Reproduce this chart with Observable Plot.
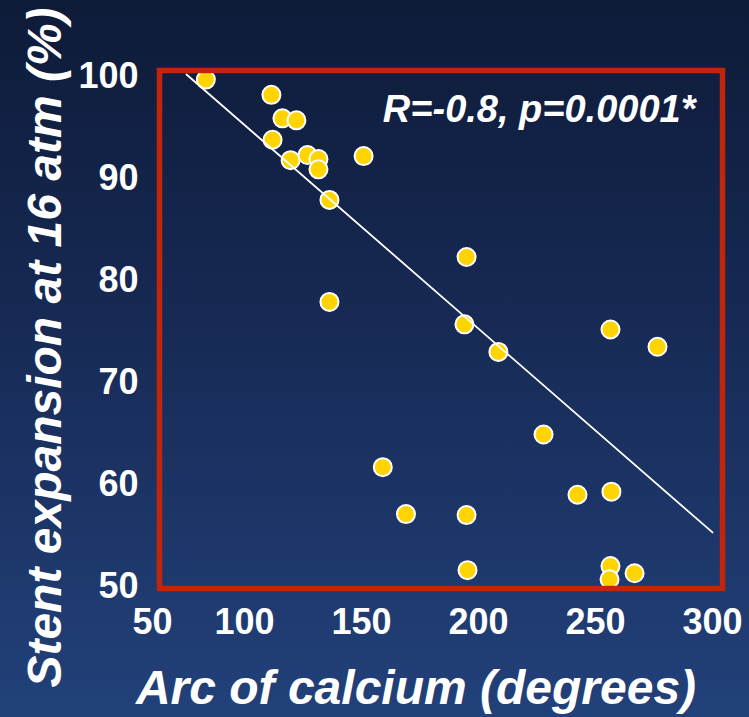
<!DOCTYPE html>
<html>
<head>
<meta charset="utf-8">
<script src="https://cdn.jsdelivr.net/npm/d3@7"></script>
<script src="https://cdn.jsdelivr.net/npm/@observablehq/plot@0.6"></script>
<style>
  html, body { margin: 0; padding: 0; }
  body {
    width: 749px; height: 717px; overflow: hidden;
    background: linear-gradient(180deg, #0e1b38 0%, #172a55 45%, #22417a 100%);
    font-family: "Liberation Sans", Arial, sans-serif;
  }
  #chart svg { display: block; }
</style>
</head>
<body>
<div id="chart"></div>
<script>
// Arc of calcium (degrees) and stent expansion at 16 atm (%)
const arcCalcium = [79, 111.5, 116.2, 122.2, 112.0, 119.7, 126.9, 131.6, 131.6, 136.3, 150.9, 136.3,
  194.9, 194.0, 208.5, 159.1, 169.0, 194.9, 195.3, 256.4, 276.5, 227.8, 242.3, 256.8, 256.4, 256.0, 266.7];
const stentExpansion = [99.7, 98.2, 95.9, 95.7, 93.8, 91.8, 92.3, 91.9, 90.9, 87.9, 92.2, 77.9,
  82.3, 75.7, 73.0, 61.7, 57.1, 57.0, 51.6, 75.2, 73.5, 64.9, 59.0, 59.3, 52.0, 50.7, 51.3];
// regression line end points
const fitArc = [68.5, 300];
const fitExpansion = [100.2, 55.3];
// tick labels
const xTicks = [50, 100, 150, 200, 250, 300];
const yTicks = [50, 60, 70, 80, 90, 100];
const xLabel = "Arc of calcium (degrees)";
const yLabel = "Stent expansion at 16 atm (%)";
const statText = "R=-0.8, p=0.0001*";

const points = arcCalcium.map((a, i) => ({arc: a, expansion: stentExpansion[i]}));
const fit = fitArc.map((a, i) => ({arc: a, expansion: fitExpansion[i]}));

const chart = Plot.plot({
  width: 749,
  height: 717,
  marginTop: 70,
  marginBottom: 129,
  marginLeft: 159,
  marginRight: 27,
  x: {type: "linear", domain: [50, 100, 300], range: [152, 244, 712]},
  y: {type: "linear", domain: [50, 100], range: [586, 76]},
  style: {background: "transparent", color: "white", fontFamily: "'Liberation Sans', Arial, sans-serif", overflow: "visible"},
  marks: [
    Plot.axisX(xTicks, {tickSize: 0, tickPadding: 20, fontSize: 36, fontWeight: "bold", fill: "white", label: null}),
    Plot.axisY(yTicks, {tickSize: 0, tickPadding: 21, fontSize: 36, fontWeight: "bold", fill: "white", label: null}),
    Plot.dot(points, {x: "arc", y: "expansion", r: 9, fill: "#ffd400", stroke: "white", strokeWidth: 2}),
    Plot.line(fit, {x: "arc", y: "expansion", stroke: "white", strokeWidth: 1.8}),
    Plot.frame({stroke: "#c1260b", strokeWidth: 5.5}),
    Plot.text([statText], {frameAnchor: "top-right", textAnchor: "end", lineAnchor: "bottom", dx: -27, dy: 51,
      fontSize: 38, fontWeight: "bold", fontStyle: "italic", fill: "white"}),
    Plot.text([xLabel], {frameAnchor: "bottom", textAnchor: "middle", lineAnchor: "bottom", dx: -25, dy: 115,
      fontSize: 48, fontWeight: "bold", fontStyle: "italic", fill: "white"}),
    Plot.text([yLabel], {frameAnchor: "left", textAnchor: "middle", lineAnchor: "middle", rotate: -90, dx: -114, dy: 18,
      fontSize: 48, fontWeight: "bold", fontStyle: "italic", fill: "white"})
  ]
});
document.getElementById("chart").appendChild(chart);
</script>
</body>
</html>
